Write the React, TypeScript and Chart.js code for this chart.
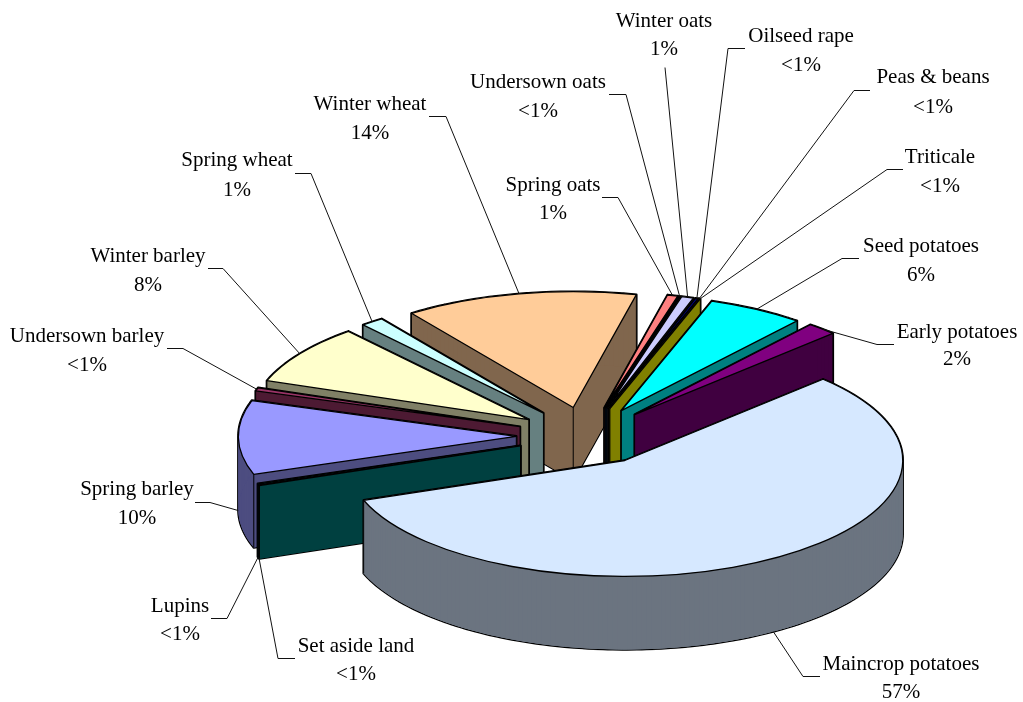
import React, { useEffect, useRef } from "react";
import { Chart, registerables } from "chart.js";

Chart.register(...registerables);

// Crop areas, clockwise from the first slice.
const categories = [
  "Maincrop potatoes", "Set aside land", "Lupins", "Spring barley",
  "Undersown barley", "Winter barley", "Spring wheat", "Winter wheat",
  "Spring oats", "Undersown oats", "Winter oats", "Oilseed rape",
  "Peas & beans", "Triticale", "Seed potatoes", "Early potatoes",
];
const shares = [
  56.65, 0.12, 0.12, 10.3,
  0.45, 8.3, 1.35, 13.5,
  0.6, 0.06, 0.7, 0.18,
  0.04, 0.04, 5.6, 1.75,
];

const topColours = [
  "#d6e8ff", "#008080", "#00ccff", "#9999ff",
  "#993366", "#ffffcc", "#ccffff", "#ffcc99",
  "#ff8080", "#0066cc", "#ccccff", "#000080",
  "#800080", "#ffff00", "#00ffff", "#800080",
];
const sideColours = [
  "#6b7480", "#004040", "#006680", "#4d4d80",
  "#4d1a33", "#808066", "#668080", "#80664d",
  "#804040", "#003366", "#666680", "#000040",
  "#400040", "#808000", "#008080", "#400040",
];

// Pie projection.
const centreX = 587;
const centreY = 436;
const radius = 278;
const squash = 0.417;
const explodeX = 70.7;
const explodeY = 29;
const thickness = 73;

// Text baseline pairs: centre x, first line y, second line y.
const labelPlaces = [
  [901, 670, 698], [356, 652, 680], [180, 612, 640], [137, 495, 524],
  [87, 342, 371], [148, 262, 291], [237, 166, 196], [370, 110, 139],
  [553, 191, 219], [538, 88, 117], [664, 27, 55], [801, 42, 71],
  [933, 83, 113], [940, 163, 192], [921, 252, 281], [957, 338, 365],
];

// Leader elbows: label-side end, then the bend towards the slice.
const leaderBends = [
  [[820, 676], [803, 676]], [[295, 658], [278, 658]], [[211, 618], [227, 618]], [[195, 502], [210, 502]],
  [[167, 348], [183, 348]], [[208, 268], [223, 268]], [[295, 173], [311, 173]], [[429, 116], [446, 116]],
  [[602, 197], [618, 197]], [[609, 94], [626, 94]], [[665, 67]], [[745, 48], [728, 48]],
  [[870, 90], [854, 90]], [[903, 169], [887, 169]], [[859, 258], [842, 258]], [[894, 344], [877, 344]],
];

const percentText = (v: number) => (Math.round(v) === 0 ? "<1%" : `${Math.round(v)}%`);

const TAU = Math.PI * 2;
const RIM_STEP = Math.PI / 180;

type Placed = { arc: any; index: number; ax: number; ay: number; mid: number };

function placeArcs(chart: any): Placed[] {
  const arcs = chart.getDatasetMeta(0).data;
  return arcs.map((arc: any, index: number) => {
    const mid = (arc.startAngle + arc.endAngle) / 2;
    return {
      arc,
      index,
      mid,
      ax: centreX + Math.cos(mid) * explodeX,
      ay: centreY + Math.sin(mid) * explodeY,
    };
  });
}

// The top face goes through the library's own arc element, under a squashing transform.
function fillTopFace(ctx: CanvasRenderingContext2D, p: Placed) {
  ctx.save();
  ctx.translate(p.ax, p.ay);
  ctx.scale(1, squash);
  ctx.translate(-p.arc.x, -p.arc.y);
  p.arc.draw(ctx);
  ctx.restore();
}

function rimPoint(p: Placed, angle: number, drop: number) {
  const R = p.arc.outerRadius;
  return [p.ax + Math.cos(angle) * R, p.ay + Math.sin(angle) * R * squash + drop];
}

function traceFace(ctx: CanvasRenderingContext2D, p: Placed, drop: number) {
  const R = p.arc.outerRadius;
  ctx.moveTo(p.ax, p.ay + drop);
  ctx.ellipse(p.ax, p.ay + drop, R, R * squash, 0, p.arc.startAngle, p.arc.endAngle);
  ctx.closePath();
}

function traceRadialWall(ctx: CanvasRenderingContext2D, p: Placed, angle: number) {
  const [x, y] = rimPoint(p, angle, 0);
  ctx.moveTo(p.ax, p.ay);
  ctx.lineTo(x, y);
  ctx.lineTo(x, y + thickness);
  ctx.lineTo(p.ax, p.ay + thickness);
  ctx.closePath();
}

// One short panel of the curved rim; neighbouring panels overlap by one step to hide seams.
function traceRimPanel(ctx: CanvasRenderingContext2D, p: Placed, from: number) {
  const to = Math.min(from + RIM_STEP * 2, p.arc.endAngle);
  const [x0, y0] = rimPoint(p, from, 0);
  const [x1, y1] = rimPoint(p, to, 0);
  ctx.moveTo(x0, y0);
  ctx.lineTo(x1, y1);
  ctx.lineTo(x1, y1 + thickness);
  ctx.lineTo(x0, y0 + thickness);
  ctx.closePath();
}

function rimStarts(p: Placed) {
  const starts: number[] = [];
  for (let a = p.arc.startAngle; a < p.arc.endAngle; a += RIM_STEP) starts.push(a);
  return starts;
}

// True when the point just under a top-face vertex still lies on that face.
function coveredBelow(p: Placed, x: number, y: number) {
  const R = p.arc.outerRadius;
  const ty = y + 1;
  if (Math.hypot(x, ty) >= R) return false;
  let a = Math.atan2(ty, x);
  while (a < p.arc.startAngle) a += TAU;
  while (a - TAU >= p.arc.startAngle) a -= TAU;
  return a <= p.arc.endAngle;
}

function drawSlice(ctx: CanvasRenderingContext2D, p: Placed) {
  const R = p.arc.outerRadius;
  const walls = [p.arc.startAngle, p.arc.endAngle];
  const panels = rimStarts(p);
  ctx.save();
  ctx.lineJoin = "round";

  // Black outer line of the extruded body, then the body itself over it.
  ctx.strokeStyle = "#000";
  ctx.lineWidth = 2.4;
  ctx.beginPath();
  traceFace(ctx, p, thickness);
  walls.forEach((a) => traceRadialWall(ctx, p, a));
  panels.forEach((a) => traceRimPanel(ctx, p, a));
  ctx.stroke();

  ctx.fillStyle = sideColours[p.index];
  ctx.beginPath();
  traceFace(ctx, p, thickness);
  ctx.fill();
  walls.forEach((a) => {
    ctx.beginPath();
    traceRadialWall(ctx, p, a);
    ctx.fill();
  });
  panels.forEach((a) => {
    ctx.beginPath();
    traceRimPanel(ctx, p, a);
    ctx.fill();
  });

  // Vertical edges that are not hidden by the top face.
  const corners = [
    [0, 0],
    [Math.cos(p.arc.startAngle) * (R - 0.01), Math.sin(p.arc.startAngle) * (R - 0.01)],
    [Math.cos(p.arc.endAngle) * (R - 0.01), Math.sin(p.arc.endAngle) * (R - 0.01)],
  ];
  ctx.lineWidth = 1;
  ctx.beginPath();
  for (const [x, y] of corners) {
    if (coveredBelow(p, x, y)) continue;
    ctx.moveTo(p.ax + x, p.ay + y * squash);
    ctx.lineTo(p.ax + x, p.ay + y * squash + thickness);
  }
  ctx.stroke();

  // Top face and its outline.
  fillTopFace(ctx, p);
  ctx.lineWidth = 1.3;
  ctx.beginPath();
  traceFace(ctx, p, 0);
  ctx.stroke();
  ctx.restore();
}

const exploded3dPie = {
  id: "exploded3dPie",
  beforeDatasetsDraw(chart: any) {
    const ctx = chart.ctx as CanvasRenderingContext2D;
    const placed = placeArcs(chart).sort((a, b) => a.ay - b.ay);
    placed.forEach((p) => drawSlice(ctx, p));
    return false;
  },
  afterDraw(chart: any) {
    const ctx = chart.ctx as CanvasRenderingContext2D;
    ctx.save();
    placeArcs(chart).forEach((p) => {
      // Leader lines meet the rim of the slice; slices facing the viewer at the rim's lower edge.
      const [endX, endY] = rimPoint(p, p.mid, Math.sin(p.mid) > -0.1 ? thickness : 0);
      ctx.strokeStyle = "#111";
      ctx.lineWidth = 1;
      ctx.beginPath();
      leaderBends[p.index].forEach(([x, y], k) => {
        if (k === 0) ctx.moveTo(x, y + 0.5);
        else ctx.lineTo(x, y + 0.5);
      });
      ctx.lineTo(endX, endY);
      ctx.stroke();

      const [x, y1, y2] = labelPlaces[p.index];
      ctx.fillStyle = "#000";
      ctx.font = '21px "Liberation Serif"';
      ctx.textAlign = "center";
      ctx.textBaseline = "alphabetic";
      ctx.fillText(categories[p.index], x, y1);
      ctx.fillText(percentText(shares[p.index]), x, y2);
    });
    ctx.restore();
  },
};

export default function App() {
  const ref = useRef<HTMLCanvasElement>(null);
  useEffect(() => {
    const chart = new Chart(ref.current as HTMLCanvasElement, {
      type: "pie",
      data: {
        labels: categories,
        datasets: [{ data: shares, backgroundColor: topColours, borderWidth: 0 }],
      },
      options: {
        animation: false,
        responsive: false,
        rotation: 45.5,
        radius,
        layout: { padding: 0 },
        plugins: { legend: { display: false }, tooltip: { enabled: false } },
      } as any,
      plugins: [exploded3dPie as any],
    });
    return () => chart.destroy();
  }, []);
  return (
    <canvas
      ref={ref}
      width={1023}
      height={702}
      style={{ position: "fixed", left: 0, top: 0, width: 1023, height: 702, background: "#fff" }}
    />
  );
}
